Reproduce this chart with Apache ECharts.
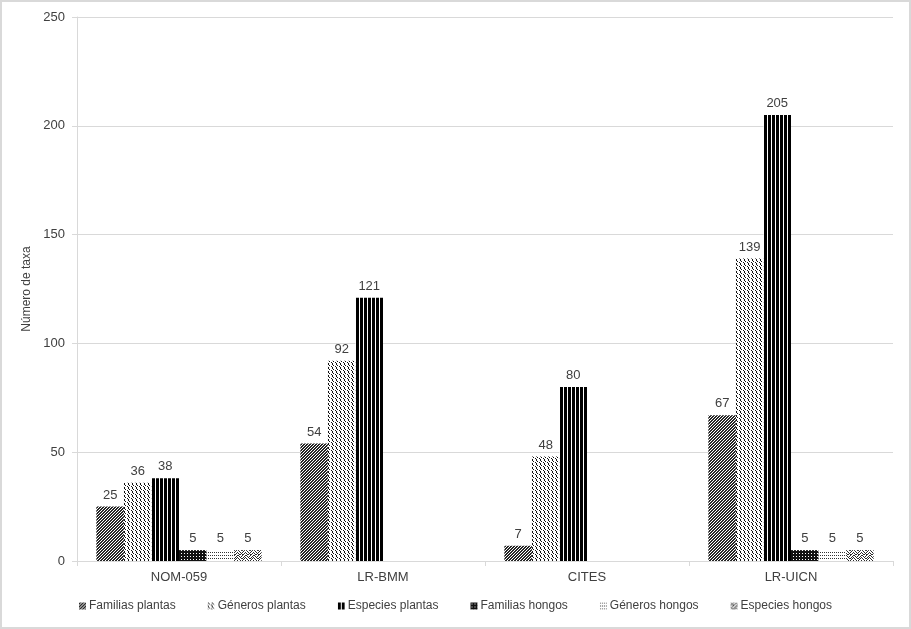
<!DOCTYPE html>
<html>
<head>
<meta charset="utf-8">
<script src="https://cdn.jsdelivr.net/npm/echarts@6/dist/echarts.min.js"></script>
<style>
  html, body { margin: 0; padding: 0; background: #fff; }
  #chart { position: absolute; left: 0; top: 0; width: 911px; height: 629px; }
  #frame { position: absolute; left: 0; top: 0; width: 911px; height: 629px; box-sizing: border-box; border: 2px solid #d9d9d9; pointer-events: none; }
</style>
</head>
<body>
<div id="chart"></div>
<div id="frame"></div>
<script>
// ---- data ----
var categories = ['NOM-059', 'LR-BMM', 'CITES', 'LR-UICN'];
var seriesNames = ['Familias plantas', 'Géneros plantas', 'Especies plantas', 'Familias hongos', 'Géneros hongos', 'Especies hongos'];
var familiasPlantas = [25, 54, 7, 67];
var generosPlantas = [36, 92, 48, 139];
var especiesPlantas = [38, 121, 80, 205];
var familiasHongos = [5, null, null, 5];
var generosHongos = [5, null, null, 5];
var especiesHongos = [5, null, null, 5];
var yTicks = { min: 0, max: 250, interval: 50 };

// ---- fill patterns (style only) ----
function makePattern(w, h, fn, ink) {
  var c = document.createElement('canvas');
  c.width = w; c.height = h;
  var ctx = c.getContext('2d');
  ctx.fillStyle = '#ffffff';
  ctx.fillRect(0, 0, w, h);
  ctx.fillStyle = ink;
  for (var y = 0; y < h; y++) for (var x = 0; x < w; x++) if (fn(x, y)) ctx.fillRect(x, y, 1, 1);
  return { image: c, repeat: 'repeat' };
}
var bm = ['10100100','01001010','10110001','00100110','01001001','10010100','01101010','00010001'];
var patterns = [
  makePattern(3, 3, function (x, y) { return (x + y) % 3 !== 2; }, '#262626'),
  makePattern(4, 4, function (x, y) { return y < 2 ? x === y : x === (y + 1) % 4; }, '#111111'),
  makePattern(4, 4, function (x, y) { return x % 4 < 3; }, '#000000'),
  makePattern(3, 3, function (x, y) { return !(x === 1 && y === 1); }, '#111111'),
  makePattern(2, 3, function (x, y) { return x === 0 && y === 0; }, '#333333'),
  makePattern(8, 8, function (x, y) { return bm[y][x] === '1'; }, '#2a2a2a')
];

var dataSets = [familiasPlantas, generosPlantas, especiesPlantas, familiasHongos, generosHongos, especiesHongos];
var txt = '#404040';
var font = 'Liberation Sans, Arial, sans-serif';

var series = seriesNames.map(function (name, i) {
  return {
    name: name,
    type: 'bar',
    data: dataSets[i],
    barGap: '0%',
    barCategoryGap: '19%',
    itemStyle: { color: patterns[i] },
    label: { show: true, position: 'top', distance: 5, color: txt, fontFamily: font, fontSize: 13 },
    emphasis: { disabled: true },
    animation: false
  };
});

var chart = echarts.init(document.getElementById('chart'));
chart.setOption({
  animation: false,
  textStyle: { fontFamily: font },
  grid: { left: 77, right: 18, top: 17, bottom: 68 },
  legend: {
    bottom: 12,
    left: 'center',
    itemWidth: 7,
    itemHeight: 7,
    itemGap: 32,
    icon: 'rect',
    textStyle: { color: txt, fontFamily: font, fontSize: 12, padding: [0, 0, 0, -2] },
    data: seriesNames
  },
  xAxis: {
    type: 'category',
    data: categories,
    axisLine: { lineStyle: { color: '#d9d9d9', width: 1 } },
    axisTick: { show: true, length: 5, lineStyle: { color: '#d9d9d9' } },
    axisLabel: { color: txt, fontFamily: font, fontSize: 13, margin: 10 }
  },
  yAxis: {
    type: 'value',
    min: yTicks.min,
    max: yTicks.max,
    interval: yTicks.interval,
    name: 'Número de taxa',
    nameLocation: 'middle',
    nameGap: 36,
    nameTextStyle: { color: txt, fontFamily: font, fontSize: 12 },
    axisLine: { show: true, lineStyle: { color: '#d9d9d9' } },
    axisTick: { show: true, length: 5, lineStyle: { color: '#d9d9d9' } },
    axisLabel: { color: txt, fontFamily: font, fontSize: 13, margin: 12 },
    splitLine: { lineStyle: { color: '#d9d9d9' } }
  },
  series: series
});
</script>
</body>
</html>
